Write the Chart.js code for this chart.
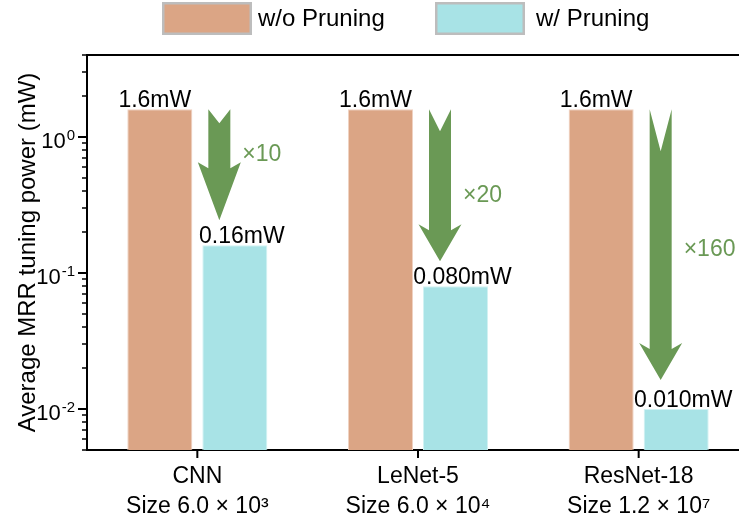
<!DOCTYPE html>
<html><head><meta charset="utf-8">
<style>html,body{margin:0;padding:0;overflow:hidden;background:#fff}#wrap{width:760px;height:517px;position:relative}</style>
<script src="https://cdn.jsdelivr.net/npm/chart.js@4.4.0/dist/chart.umd.min.js"></script>
</head><body><div id="wrap"><canvas id="c"></canvas></div>
<script>
// ---- data ----
const categories = [['CNN', 'Size 6.0 × 10³'], ['LeNet-5', 'Size 6.0 × 10⁴'], ['ResNet-18', 'Size 1.2 × 10⁷']];
const seriesNames = ['w/o Pruning', 'w/ Pruning'];
const withoutPruning = [1.6, 1.6, 1.6];
const withPruning = [0.16, 0.080, 0.010];
const withoutLabels = ['1.6mW', '1.6mW', '1.6mW'];
const withLabels = ['0.16mW', '0.080mW', '0.010mW'];
const yMajorTicks = [0.01, 0.1, 1];
const yTickBase = '10';
const yTickExponents = ['-2', '-1', '0'];
const yMinorTicks = [0.005, 0.006, 0.007, 0.008, 0.009, 0.02, 0.03, 0.04, 0.05, 0.06, 0.07, 0.08, 0.09,
  0.2, 0.3, 0.4, 0.5, 0.6, 0.7, 0.8, 0.9, 2, 3, 4];
const yMin = 0.005, yMax = 4;
const yTitle = 'Average MRR tuning power (mW)';

// ---- style ----
const FONT = "'Liberation Sans', Arial, Helvetica, sans-serif";
const FS = 23;
const FS_BIG = 24;
const colors = ['#DBA585', '#A8E3E6'];
const edgeColors = ['#EFD2C2', '#D2F2F3'];
const green = '#6A9955';
const arrowStyle = [
  { headLen: 58, notch: 14, gap: 25, labelFrac: 0.41 },
  { headLen: 37, notch: 22, gap: 25, labelFrac: 0.57 },
  { headLen: 37, notch: 42, gap: 29, labelFrac: 0.52 }
];
const legendX = [162, 435];
const legendTextGap = [6, 11];

const annot = {
  id: 'annot',
  afterDraw(chart) {
    const ctx = chart.ctx, ca = chart.chartArea, xs = chart.scales.x, ys = chart.scales.y;
    ctx.save();
    ctx.strokeStyle = '#000';
    // top frame line
    ctx.lineWidth = 2;
    ctx.beginPath(); ctx.moveTo(ca.left - 1, ca.top); ctx.lineTo(ca.right + 5, ca.top); ctx.stroke();
    // y ticks + labels
    ys.ticks.forEach(t => {
      const y = Math.round(ys.getPixelForValue(t.value));
      const mi = yMajorTicks.indexOf(t.value);
      const major = mi >= 0;
      const len = major ? 9 : 5;
      ctx.lineWidth = major ? 2 : 1.5;
      ctx.beginPath(); ctx.moveTo(ca.left - len, y); ctx.lineTo(ca.left, y); ctx.stroke();
      if (major) {
        const right = ca.left - 12;
        ctx.fillStyle = '#000';
        ctx.textBaseline = 'alphabetic';
        ctx.textAlign = 'right';
        ctx.font = '15px ' + FONT;
        const ew = ctx.measureText(yTickExponents[mi]).width;
        ctx.fillText(yTickExponents[mi], right, y + 3);
        ctx.font = '22px ' + FONT;
        ctx.fillText(yTickBase, right - ew - 1, y + 11);
      }
    });
    // x ticks
    categories.forEach((c, i) => {
      const x = xs.getPixelForValue(i);
      ctx.lineWidth = 2;
      ctx.beginPath(); ctx.moveTo(x, ca.bottom); ctx.lineTo(x, ca.bottom + 8); ctx.stroke();
    });
    // value labels
    ctx.font = FS + 'px ' + FONT;
    ctx.fillStyle = '#000';
    ctx.textAlign = 'center';
    ctx.textBaseline = 'alphabetic';
    const m0 = chart.getDatasetMeta(0), m1 = chart.getDatasetMeta(1);
    m0.data.forEach((b, i) => ctx.fillText(withoutLabels[i], b.x - 5, b.y - 2));
    m1.data.forEach((b, i) => ctx.fillText(withLabels[i], b.x + 7, b.y - 2));
    // arrows
    categories.forEach((c, i) => {
      const st = arrowStyle[i];
      const cx = xs.getPixelForValue(i) + 22;
      const y0 = ys.getPixelForValue(withoutPruning[i]);
      const tip = ys.getPixelForValue(withPruning[i]) - st.gap;
      const hw = 11, hh = 21.5;
      const yh = tip - st.headLen;
      ctx.fillStyle = green;
      ctx.beginPath();
      ctx.moveTo(cx - hw, y0);
      ctx.lineTo(cx, y0 + st.notch);
      ctx.lineTo(cx + hw, y0);
      ctx.lineTo(cx + hw, yh + 6);
      ctx.lineTo(cx + hh, yh);
      ctx.lineTo(cx, tip);
      ctx.lineTo(cx - hh, yh);
      ctx.lineTo(cx - hw, yh + 6);
      ctx.closePath();
      ctx.fill();
      const ratio = Math.round(withoutPruning[i] / withPruning[i]);
      ctx.fillStyle = green;
      ctx.textAlign = 'left';
      ctx.textBaseline = 'middle';
      ctx.font = FS + 'px ' + FONT;
      ctx.fillText('×' + ratio, cx + 23, y0 + st.labelFrac * (tip - y0));
    });
    // legend
    chart.data.datasets.forEach((ds, i) => {
      const lx = legendX[i];
      ctx.fillStyle = ds.backgroundColor;
      ctx.fillRect(lx, 2, 90, 33);
      ctx.strokeStyle = '#BDBDBD';
      ctx.lineWidth = 2.5;
      ctx.strokeRect(lx + 1.25, 3.25, 87.5, 30.5);
      ctx.fillStyle = '#000';
      ctx.textAlign = 'left';
      ctx.textBaseline = 'middle';
      ctx.font = FS_BIG + 'px ' + FONT;
      ctx.fillText(ds.label, lx + 90 + legendTextGap[i], 19);
    });
    ctx.restore();
  }
};

new Chart(document.getElementById('c'), {
  type: 'bar',
  data: {
    labels: categories,
    datasets: [
      { label: seriesNames[0], data: withoutPruning, backgroundColor: colors[0], borderColor: edgeColors[0], borderWidth: 1,
        categoryPercentage: 0.68, barPercentage: 0.867 },
      { label: seriesNames[1], data: withPruning, backgroundColor: colors[1], borderColor: edgeColors[1], borderWidth: 1,
        categoryPercentage: 0.68, barPercentage: 0.867 }
    ]
  },
  options: {
    responsive: true, maintainAspectRatio: false, animation: false,
    layout: { padding: { top: 55, left: 0, right: 11, bottom: 0 } },
    plugins: { legend: { display: false }, tooltip: { enabled: false } },
    scales: {
      x: {
        grid: { display: false },
        border: { display: true, color: '#000', width: 2 },
        ticks: { color: '#000', font: { family: FONT, size: FS, lineHeight: 1.3 }, padding: 4, maxRotation: 0, autoSkip: false },
        afterFit(s) { s.height = 67; }
      },
      y: {
        type: 'logarithmic', min: yMin, max: yMax,
        grid: { display: false },
        border: { display: true, color: '#000', width: 2 },
        afterBuildTicks(s) {
          s.ticks = yMajorTicks.concat(yMinorTicks).sort((a, b) => a - b).map(v => ({ value: v, major: yMajorTicks.includes(v) }));
        },
        ticks: { display: false, autoSkip: false },
        title: { display: true, text: yTitle, color: '#000', font: { family: FONT, size: FS_BIG }, padding: { top: 14, bottom: 0 } },
        afterFit(s) { s.width = 87; }
      }
    }
  },
  plugins: [annot]
});
</script></body></html>
